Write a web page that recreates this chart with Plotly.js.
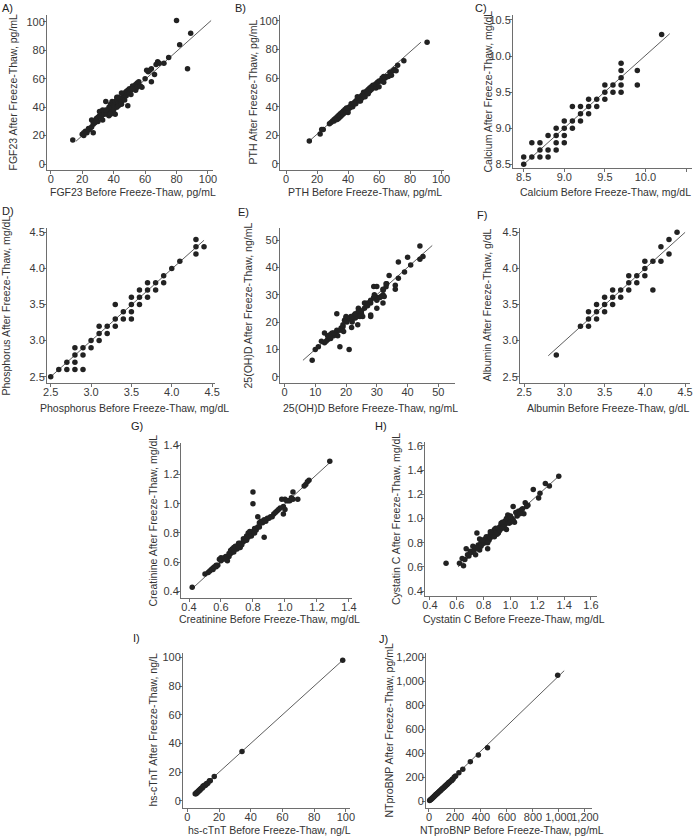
<!DOCTYPE html>
<html>
<head>
<meta charset="utf-8">
<script src="https://cdn.plot.ly/plotly-3.0.1.min.js"></script>
<style>
  body { margin: 0; background: #fff; }
  #chart { width: 693px; height: 838px; }
</style>
</head>
<body>
<div id="chart"></div>
<script>
// before / after freeze-thaw pairs
var fgfBefore = [14,20,21,21,22,23,24,25,26,26, 27,27,27,28,29,30,30,31,31,32, 32,33,33,34,34,35,35,36,36,37, 37,37,38,38,38,39,39,39,40,40, 40,41,41,41,42,42,42,43,43,44, 44,45,45,46,46,47,47,48,48,49, 49,50,50,51,51,52,53,54,54,55, 55,56,57,58,60,61,62,63,64,64, 66,67,68,69,72,75,80,82,87,89, 35,43,45,52,38,33,29,24];
var fgfAfter  = [17,21,20,22,23,22,25,25,26,31, 30,28,22,29,32,30,33,34,37,36, 33,35,38,37,35,36,44,37,35,34, 38,40,39,36,42,40,37,44,41,43, 38,35,42,44,40,45,47,43,41,45, 46,44,42,47,49,45,50,48,51,41, 52,50,53,49,52,55,54,52,56,57, 54,58,55,54,60,66,65,66,58,67, 63,70,72,71,71,75,101,84,67,92, 38,47,50,53,35,31,30,24];
var fgfFitX = [16, 102], fgfFitY = [16, 101];

var pthBefore = [15,22,23,24,28,29,30,31,31,32, 32,33,33,34,34,35,35,35,36,36, 37,37,37,38,38,38,39,39,39,40, 40,40,41,41,42,42,43,43,44,44, 45,45,46,46,47,47,48,48,49,49, 50,50,51,51,52,52,53,53,54,54, 55,55,56,56,57,58,58,59,60,60, 61,62,62,63,63,64,65,66,67,68, 69,70,71,72,76,91];
var pthAfter  = [16,21,24,24,28,29,30,31,30,31, 32,33,31,32,34,33,35,34,34,36, 35,37,36,36,37,38,37,38,39,38, 39,36,40,39,40,42,41,40,42,43, 44,42,45,47,44,46,47,44,46,48, 48,50,49,47,50,51,52,49,51,53, 52,54,55,53,55,53,56,57,58,54, 58,59,60,57,61,60,61,61,64,62, 65,66,65,69,72,85];
var pthFitX = [15, 87], pthFitY = [16, 85];

var caBefore = [8.5,8.5,8.6,8.6,8.7,8.7,8.7,8.8,8.8,8.8,8.9,8.9,8.9,8.9,9.0,9.0,9.0,9.0,9.1,9.1,9.1,9.2,9.2,9.2,9.3,9.3,9.3,9.4,9.4,9.5,9.5,9.5,9.6,9.6,9.7,9.7,9.7,9.7,9.7,9.9,9.9,10.2];
var caAfter  = [8.6,8.5,8.8,8.6,8.8,8.7,8.6,8.9,8.7,8.6,9.0,8.9,8.8,8.7,9.1,9.0,8.9,8.8,9.3,9.1,9.0,9.3,9.2,9.1,9.4,9.3,9.2,9.4,9.3,9.6,9.5,9.4,9.6,9.5,9.9,9.8,9.7,9.6,9.5,9.8,9.6,10.3];
var caFitX = [8.5, 10.3], caFitY = [8.5, 10.31];

var phBefore = [2.5,2.6,2.7,2.7,2.8,2.8,2.8,2.8,2.9,2.9,2.9,3.0,3.0,3.1,3.1,3.1,3.2,3.2,3.3,3.3,3.3,3.4,3.4,3.5,3.5,3.5,3.5,3.6,3.6,3.6,3.7,3.7,3.7,3.8,3.8,3.9,3.9,4.0,4.1,4.3,4.3,4.3,4.4];
var phAfter  = [2.5,2.6,2.7,2.6,2.9,2.8,2.7,2.6,2.9,2.8,2.6,3.0,2.9,3.2,3.1,3.0,3.2,3.1,3.5,3.3,3.2,3.4,3.3,3.6,3.5,3.4,3.3,3.7,3.6,3.5,3.8,3.7,3.6,3.8,3.7,3.9,3.8,4.0,4.1,4.4,4.3,4.2,4.3];
var phFitX = [2.5, 4.4], phFitY = [2.5, 4.39];

var vitdBefore = [9,10,11,13,13,14,14.6,15,15.5,16, 16.8,17,17.3,18,18.4,19,19.2,19.5,20,20.3, 21,20.8,21.6,21.8,22,22.7,23,23.6,23.8,24, 24.3,25,25.4,26,26.3,27,28,28,28,29, 29,29.2,30,30,30.3,31.4,32,32,32.1,32.4, 33,33.2,34,36,36,37,37,39,40,41, 44,44,45, 12,13.5,14,15,16,17,18,19,20,21, 22,23,24,24.5,25,26,27,28,29,30, 31,32,33,20,22];
var vitdAfter  = [6,10,11,12.4,16,13.5,14.6,14,16,15, 16,23,15,11,17.8,18.3,16.5,20.7,21.7,20, 10,21,22,18,21,22.6,21.5,22,19,25, 22.6,23,22,25,26.8,27,27,22.6,22,28.8, 33,30,33,25,29,29.3,30,27,31.7,29.3, 32.9,34,37,32,33.5,36,42,38.3,43.7,40.9, 47.8,43,44, 13,13,15,15.5,16,17,17,19,20.5,21.5, 22,23,24,22,24,27,26,28,29,28, 29,32,34,22,20];
var vitdFitX = [6, 48], vitdFitY = [6, 48];

var albBefore = [2.9,3.2,3.3,3.3,3.3,3.4,3.4,3.4,3.5,3.5,3.5,3.6,3.6,3.6,3.7,3.7,3.8,3.8,3.8,3.9,3.9,4.0,4.0,4.0,4.1,4.1,4.2,4.2,4.3,4.3,4.4];
var albAfter  = [2.8,3.2,3.4,3.3,3.2,3.5,3.4,3.3,3.6,3.5,3.4,3.7,3.6,3.5,3.7,3.6,3.9,3.8,3.7,3.9,3.8,4.1,4.0,3.9,4.1,3.7,4.3,4.1,4.4,4.2,4.5];
var albFitX = [2.8, 4.5], albFitY = [2.79, 4.5];

var creatBefore = [0.42,0.50,0.52,0.54,0.55,0.56,0.57,0.59,0.60,0.61, 0.64,0.65,0.66,0.67,0.68,0.69,0.70,0.71,0.72,0.74, 0.75,0.76,0.77,0.78,0.79,0.80,0.80,0.80,0.81,0.83, 0.84,0.85,0.87,0.87,0.89,0.91,0.93,0.95,0.97,0.99, 0.99,1.00,1.02,1.05,1.05,1.08,1.13,1.15,1.28,1.00, 0.55,0.58,0.60,0.62,0.63,0.65,0.66,0.67,0.68,0.69, 0.70,0.71,0.72,0.73,0.74,0.76,0.77,0.78,0.79,0.81, 0.82,0.83,0.84,0.86,0.88,0.90,0.92,0.94,0.96,0.98, 1.01,1.03,1.04,1.12,1.14,0.53,0.57,0.63];
var creatAfter  = [0.43,0.52,0.53,0.55,0.56,0.57,0.58,0.62,0.63,0.62, 0.61,0.64,0.66,0.67,0.70,0.69,0.71,0.73,0.70,0.74, 0.75,0.78,0.80,0.79,0.80,0.81,1.08,1.00,0.83,0.91, 0.87,0.88,0.77,0.89,0.90,0.91,0.93,0.95,0.97,0.93, 0.98,1.03,1.02,1.03,1.08,1.03,1.13,1.16,1.29,0.96, 0.55,0.58,0.61,0.63,0.64,0.66,0.68,0.69,0.67,0.71, 0.69,0.70,0.73,0.72,0.76,0.75,0.77,0.81,0.78,0.80, 0.82,0.84,0.84,0.87,0.88,0.90,0.91,0.94,0.96,1.03, 1.02,1.02,1.04,1.12,1.15,0.54,0.57,0.62];
var creatFitX = [0.43, 1.29], creatFitY = [0.43, 1.29];

var cysBefore = [0.52,0.62,0.65,0.64,0.67,0.69,0.70,0.72,0.74,0.75, 0.76,0.77,0.77,0.80,0.81,0.83,0.83,0.85,0.86,0.87, 0.88,0.90,0.91,0.92,0.93,0.95,0.96,0.97,0.98,0.98, 1.01,1.02,1.03,1.05,1.06,1.08,1.10,1.11,1.13,1.17, 1.21,1.22,1.26,1.29,1.36, 0.66,0.68,0.71,0.73,0.74,0.76,0.78,0.79,0.80,0.81, 0.82,0.82,0.84,0.84,0.85,0.86,0.87,0.88,0.89,0.89, 0.90,0.91,0.92,0.93,0.94,0.95,0.96,0.97,0.99,1.00, 1.02,1.04,1.07,1.09,1.12,0.78,0.79,0.83,0.85,0.88, 0.94,1.00];
var cysAfter  = [0.63,0.63,0.61,0.67,0.75,0.69,0.73,0.77,0.70,0.88, 0.78,0.74,0.83,0.82,0.80,0.75,0.84,0.87,0.88,0.89, 0.91,0.90,0.88,0.93,0.94,0.96,0.98,0.91,1.03,0.98, 1.00,1.10,0.97,1.02,1.06,1.07,1.04,1.13,1.11,1.24, 1.17,1.21,1.29,1.27,1.35, 0.66,0.70,0.72,0.74,0.76,0.76,0.80,0.79,0.80,0.83, 0.81,0.85,0.85,0.82,0.84,0.86,0.86,0.87,0.89,0.92, 0.87,0.92,0.90,0.96,0.92,0.93,0.95,1.00,0.96,1.02, 0.99,1.05,1.04,1.08,1.10,0.77,0.82,0.80,0.89,0.85, 0.97,0.97];
var cysFitX = [0.61, 1.36], cysFitY = [0.60, 1.35];

var tntBefore = [5,5.5,6,6,6.5,7,7,7.5,8,8,8.5,9,9.5,10,10,10.5,11,11.5,12,12.5,13,14,14.5,17,34.5,98];
var tntAfter  = [5,5,6,5.5,6,7,6.5,7.5,8,7.5,8.5,9,9,10,10.5,10.5,11,11,12,12,12.5,14,14,17,34.5,98];
var tntFitX = [5, 98], tntFitY = [5, 98];

var bnpBefore = [5,10,15,20,25,30,35,40,45,50,55,60,65,70,75,80,85,90,95,100,105,110,115,120,125,130,135,140,145,150,155,160,170,175,180,185,195,205,230,260,318,380,450,990];
var bnpAfter  = [5,10,14,20,24,30,34,41,44,50,56,59,66,69,76,79,86,89,96,100,104,111,114,121,124,131,134,141,144,152,154,161,170,172,181,184,200,210,237,265,329,384,446,1050];
var bnpFitX = [0, 1040], bnpFitY = [0, 1088];

var W = 693, H = 838;
var FONT = 'Liberation Sans, Arial, sans-serif';

// box = [left, right, top, bottom] of the axis frame, in pixels
var panels = [
  {tag:'A)', tagAt:[0,8], x:fgfBefore, y:fgfAfter, fx:fgfFitX, fy:fgfFitY, box:[47,213,15,170], xr:[-2.4,103.2], yr:[-4.2,104.9], dt:20, fmt:'',
   xt:'FGF23 Before Freeze-Thaw, pg/mL', yt:'FGF23 After Freeze-Thaw, pg/mL', ytx:12, xty:192},
  {tag:'B)', tagAt:[233,8], x:pthBefore, y:pthAfter, fx:pthFitX, fy:pthFitY, box:[280,444,15,170], xr:[-3.9,101.9], yr:[-4.2,104], dt:20, fmt:'',
   xt:'PTH Before Freeze-Thaw, pg/mL', yt:'PTH After Freeze-Thaw, pg/mL', ytx:252, xty:192},
  {tag:'C)', tagAt:[473,8], x:caBefore, y:caAfter, fx:caFitX, fy:caFitY, box:[513,692,15,168], xr:[8.368,10.574], yr:[8.449,10.569], dt:0.5, fmt:'.1f',
   xt:'Calcium Before Freeze-Thaw, mg/dL', yt:'Calcium After Freeze-Thaw, mg/dL', ytx:488, xty:192},
  {tag:'D)', tagAt:[0,211], x:phBefore, y:phAfter, fx:phFitX, fy:phFitY, box:[47,215,228,383], xr:[2.454,4.536], yr:[2.413,4.56], dt:0.5, fmt:'.1f',
   xt:'Phosphorus Before Freeze-Thaw, mg/dL', yt:'Phosphorus After Freeze-Thaw, mg/dL', ytx:6, xty:408},
  {tag:'E)', tagAt:[236,212], x:vitdBefore, y:vitdAfter, fx:vitdFitX, fy:vitdFitY, box:[280,455,228,383], xr:[-1.46,55.4], yr:[-2.3,54.4], dt:10, fmt:'',
   xt:'25(OH)D Before Freeze-Thaw, ng/mL', yt:'25(OH)D After Freeze-Thaw, ng/mL', ytx:248, xty:408},
  {tag:'F)', tagAt:[475,215], x:albBefore, y:albAfter, fx:albFitX, fy:albFitY, box:[520,690,228,383], xr:[2.449,4.561], yr:[2.413,4.56], dt:0.5, fmt:'.1f',
   xt:'Albumin Before Freeze-Thaw, g/dL', yt:'Albumin After Freeze-Thaw, g/dL', ytx:487, xty:408},
  {tag:'G)', tagAt:[129,426], x:creatBefore, y:creatAfter, fx:creatFitX, fy:creatFitY, box:[181,352,443,598], xr:[0.35,1.419], yr:[0.356,1.414], dt:0.2, fmt:'.1f',
   xt:'Creatinine Before Freeze-Thaw, mg/dL', yt:'Creatinine After Freeze-Thaw, mg/dL', ytx:152, xty:619},
  {tag:'H)', tagAt:[373,426], x:cysBefore, y:cysAfter, fx:cysFitX, fy:cysFitY, box:[425,597,442,596], xr:[0.363,1.645], yr:[0.359,1.633], dt:0.2, fmt:'.1f',
   xt:'Cystatin C Before Freeze-Thaw, mg/dL', yt:'Cystatin C After Freeze-Thaw, mg/dL', ytx:396, xty:619},
  {tag:'I)', tagAt:[131,638], x:tntBefore, y:tntAfter, fx:tntFitX, fy:tntFitY, box:[183,350,653,808], xr:[-2.7,102.6], yr:[-4.9,103], dt:20, fmt:'',
   xt:'hs-cTnT Before Freeze-Thaw, ng/L', yt:'hs-cTnT After Freeze-Thaw, ng/L', ytx:152, xty:830},
  {tag:'J)', tagAt:[377,639], x:bnpBefore, y:bnpAfter, fx:bnpFitX, fy:bnpFitY, box:[426,592,653,808], xr:[-23,1254], yr:[-58,1236], dt:200, fmt:',d',
   xt:'NTproBNP Before Freeze-Thaw, pg/mL', yt:'NTproBNP After Freeze-Thaw, pg/mL', ytx:388, xty:830}
];

var data = [];
var layout = {
  width: W, height: H,
  margin: {l: 0, r: 0, t: 0, b: 0},
  showlegend: false,
  paper_bgcolor: '#fff', plot_bgcolor: 'rgba(0,0,0,0)',
  annotations: []
};

function axisStyle(p, which) {
  return {
    range: which === 'x' ? p.xr : p.yr,
    dtick: p.dt, tick0: 0, tickformat: p.fmt, tickangle: 0,
    ticklabelstandoff: which === 'x' ? -4 : -4,
    showline: true, linecolor: '#6e6e6e', linewidth: 1,
    ticks: 'outside', ticklen: 3, tickcolor: '#6e6e6e', tickwidth: 1,
    showgrid: false, zeroline: false, fixedrange: true,
    tickfont: {family: FONT, size: 11, color: '#3a3a3a'}
  };
}

function note(text, px, py, opts) {
  var a = {
    text: text, xref: 'paper', yref: 'paper',
    x: px / W, y: 1 - py / H, showarrow: false,
    xanchor: 'center', yanchor: 'middle',
    font: {family: FONT, size: 10.5, color: '#333'}
  };
  for (var k in opts) a[k] = opts[k];
  layout.annotations.push(a);
}

panels.forEach(function(p, i) {
  var n = i === 0 ? '' : String(i + 1);
  var xa = axisStyle(p, 'x'), ya = axisStyle(p, 'y');
  xa.domain = [p.box[0] / W, p.box[1] / W];
  ya.domain = [1 - p.box[3] / H, 1 - p.box[2] / H];
  xa.anchor = 'y' + n;
  ya.anchor = 'x' + n;
  layout['xaxis' + n] = xa;
  layout['yaxis' + n] = ya;

  data.push({
    type: 'scatter', mode: 'lines', x: p.fx, y: p.fy,
    xaxis: 'x' + n, yaxis: 'y' + n,
    line: {color: '#333', width: 0.8}, hoverinfo: 'skip'
  });
  data.push({
    type: 'scatter', mode: 'markers', x: p.x, y: p.y,
    xaxis: 'x' + n, yaxis: 'y' + n,
    marker: {size: 5.5, color: '#222'}
  });

  note(p.tag, p.tagAt[0], p.tagAt[1], {xanchor: 'left', font: {family: FONT, size: 11, color: '#222'}});
  note(p.xt, (p.box[0] + p.box[1]) / 2 + 3, p.xty);
  note(p.yt, p.ytx, (p.box[2] + p.box[3]) / 2, {textangle: -90});
});

Plotly.newPlot('chart', data, layout, {displayModeBar: false, staticPlot: true});
</script>
</body>
</html>
